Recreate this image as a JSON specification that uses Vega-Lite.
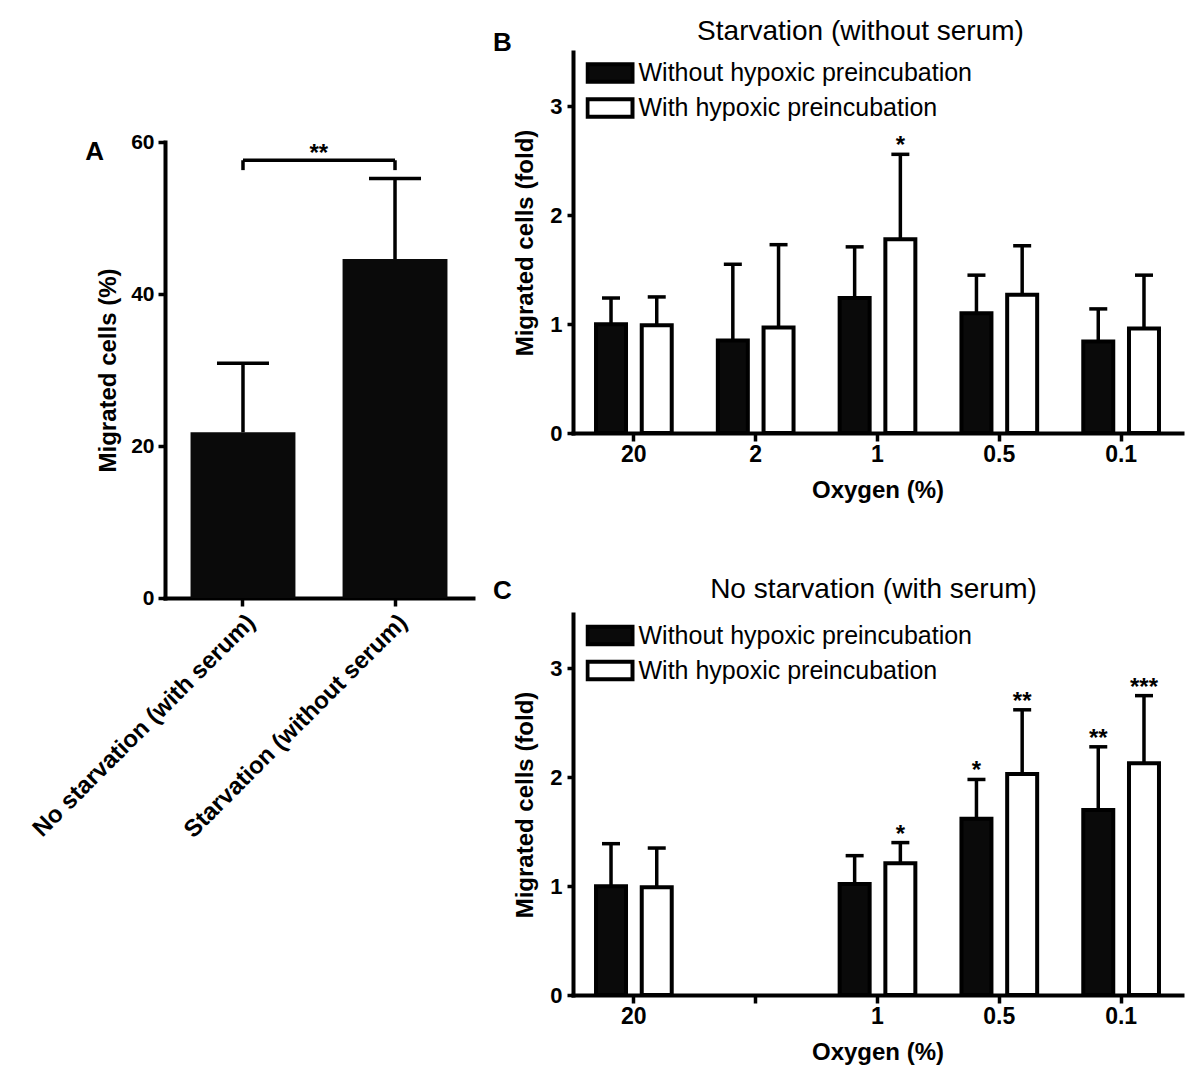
{
  "$schema": "https://vega.github.io/schema/vega-lite/v6.json",
  "background": "white",
  "padding": {"left": 28, "top": 18, "right": 5, "bottom": 5},
  "config": {
    "font": "Liberation Sans",
    "view": {"stroke": null},
    "axis": {
      "domainColor": "black", "domainWidth": 4, "domainCap": "square",
      "tickColor": "black", "tickWidth": 3.5,
      "labelColor": "black", "titleColor": "black",
      "labelFont": "Liberation Sans", "titleFont": "Liberation Sans",
      "labelFontWeight": "bold", "titleFontWeight": "bold",
      "grid": false, "labelLimit": 0
    },
    "title": {"color": "black", "font": "Liberation Sans", "fontWeight": "normal"},
    "legend": {
      "orient": "none",
      "title": null,
      "padding": 0,
      "rowPadding": 0,
      "clipHeight": 35,
      "labelFontSize": 25,
      "labelFont": "Liberation Sans",
      "labelColor": "black",
      "labelOffset": 4,
      "labelLimit": 0,
      "symbolType": "M-1,-0.39H1V0.39H-1Z",
      "symbolSize": 2025,
      "symbolStrokeColor": "black",
      "symbolStrokeWidth": 4
    }
  },
  "datasets": {
    "migA": [
      {"group": "No starvation (with serum)", "mean": 21.8, "upper": 30.9},
      {"group": "Starvation (without serum)", "mean": 44.6, "upper": 55.2}
    ],
    "bracketA": [
      {"from": "No starvation (with serum)", "to": "Starvation (without serum)", "y": 57.6, "yEnd": 56.3, "label": "**"}
    ],
    "starv": [
      {"oxygen": "20", "cond": "Without hypoxic preincubation", "mean": 1.00, "upper": 1.24, "sig": ""},
      {"oxygen": "20", "cond": "With hypoxic preincubation", "mean": 0.99, "upper": 1.25, "sig": ""},
      {"oxygen": "2", "cond": "Without hypoxic preincubation", "mean": 0.85, "upper": 1.55, "sig": ""},
      {"oxygen": "2", "cond": "With hypoxic preincubation", "mean": 0.97, "upper": 1.73, "sig": ""},
      {"oxygen": "1", "cond": "Without hypoxic preincubation", "mean": 1.24, "upper": 1.71, "sig": ""},
      {"oxygen": "1", "cond": "With hypoxic preincubation", "mean": 1.78, "upper": 2.56, "sig": "*"},
      {"oxygen": "0.5", "cond": "Without hypoxic preincubation", "mean": 1.10, "upper": 1.45, "sig": ""},
      {"oxygen": "0.5", "cond": "With hypoxic preincubation", "mean": 1.27, "upper": 1.72, "sig": ""},
      {"oxygen": "0.1", "cond": "Without hypoxic preincubation", "mean": 0.84, "upper": 1.14, "sig": ""},
      {"oxygen": "0.1", "cond": "With hypoxic preincubation", "mean": 0.96, "upper": 1.45, "sig": ""}
    ],
    "serum": [
      {"oxygen": "20", "cond": "Without hypoxic preincubation", "mean": 1.00, "upper": 1.39, "sig": ""},
      {"oxygen": "20", "cond": "With hypoxic preincubation", "mean": 0.99, "upper": 1.35, "sig": ""},
      {"oxygen": "1", "cond": "Without hypoxic preincubation", "mean": 1.02, "upper": 1.28, "sig": ""},
      {"oxygen": "1", "cond": "With hypoxic preincubation", "mean": 1.21, "upper": 1.40, "sig": "*"},
      {"oxygen": "0.5", "cond": "Without hypoxic preincubation", "mean": 1.62, "upper": 1.98, "sig": "*"},
      {"oxygen": "0.5", "cond": "With hypoxic preincubation", "mean": 2.03, "upper": 2.62, "sig": "**"},
      {"oxygen": "0.1", "cond": "Without hypoxic preincubation", "mean": 1.70, "upper": 2.28, "sig": "**"},
      {"oxygen": "0.1", "cond": "With hypoxic preincubation", "mean": 2.13, "upper": 2.75, "sig": "***"}
    ]
  },
  "spacing": 19,
  "hconcat": [
    {
      "width": 308,
      "height": 546,
      "title": {"text": "A", "anchor": "start", "frame": "group", "align": "right", "dx": -61, "offset": -113, "fontSize": 26, "fontWeight": "bold"},
      "layer": [
        {
          "data": {"name": "migA"},
          "mark": {"type": "bar", "color": "#0a0a0a"},
          "encoding": {
            "x": {"field": "group", "type": "nominal", "title": null,
              "scale": {"domain": ["No starvation (with serum)", "Starvation (without serum)"], "paddingInner": 0.31, "paddingOuter": 0.168},
              "axis": {"labelAngle": -45, "labelFontSize": 24, "tickSize": 8, "labelPadding": 4}},
            "y": {"field": "mean", "type": "quantitative", "title": "Migrated cells (%)",
              "scale": {"domain": [0, 60], "range": [546, 90], "nice": false},
              "axis": {"values": [0, 20, 40, 60], "labelFontSize": 21, "titleFontSize": 24, "tickSize": 7, "labelPadding": 4, "titlePadding": 10}}
          }
        },
        {
          "data": {"name": "migA"},
          "mark": {"type": "rule", "color": "black", "strokeWidth": 3.5},
          "encoding": {
            "x": {"field": "group", "type": "nominal", "title": null},
            "y": {"field": "mean", "type": "quantitative", "title": "Migrated cells (%)"},
            "y2": {"field": "upper"}
          }
        },
        {
          "data": {"name": "migA"},
          "mark": {"type": "tick", "color": "black", "opacity": 1, "size": 52, "thickness": 3.5},
          "encoding": {
            "x": {"field": "group", "type": "nominal", "title": null},
            "y": {"field": "upper", "type": "quantitative", "title": "Migrated cells (%)"}
          }
        },
        {
          "data": {"name": "bracketA"},
          "mark": {"type": "rule", "color": "black", "strokeWidth": 3.5},
          "encoding": {
            "x": {"field": "from", "type": "nominal", "title": null},
            "x2": {"field": "to"},
            "y": {"field": "y", "type": "quantitative", "title": "Migrated cells (%)"}
          }
        },
        {
          "data": {"name": "bracketA"},
          "transform": [{"fold": ["from", "to"], "as": ["side", "cat"]}],
          "mark": {"type": "rule", "color": "black", "strokeWidth": 3.5},
          "encoding": {
            "x": {"field": "cat", "type": "nominal", "title": null},
            "y": {"field": "y", "type": "quantitative", "title": "Migrated cells (%)"},
            "y2": {"field": "yEnd"}
          }
        },
        {
          "data": {"name": "bracketA"},
          "mark": {"type": "text", "fontSize": 24, "fontWeight": "bold", "baseline": "alphabetic", "color": "black", "dy": 1},
          "encoding": {
            "x": {"field": "from", "type": "nominal", "title": null, "bandPosition": 1.223},
            "y": {"field": "y", "type": "quantitative", "title": "Migrated cells (%)"},
            "text": {"field": "label"}
          }
        }
      ]
    },
    {
      "spacing": 74,
      "resolve": {"scale": {"fill": "independent"}, "legend": {"fill": "independent"}},
      "vconcat": [
        {
          "title": {"text": "B", "anchor": "start", "frame": "bounds", "align": "right", "dx": -2, "offset": -38, "fontSize": 26, "fontWeight": "bold"},
          "resolve": {"scale": {"fill": "independent"}, "legend": {"fill": "independent"}},
          "vconcat": [
            {
              "width": 609,
              "height": 381,
              "title": {"text": "Starvation (without serum)", "anchor": "middle", "frame": "group", "dx": -17, "offset": 6, "fontSize": 28},
              "data": {"name": "starv"},
              "encoding": {
                "x": {"field": "oxygen", "type": "nominal", "title": "Oxygen (%)",
                  "scale": {"domain": ["20", "2", "1", "0.5", "0.1"], "paddingInner": 0.3785, "paddingOuter": 0.189},
                  "axis": {"labelAngle": 0, "labelFontSize": 23, "titleFontSize": 24, "tickSize": 8, "labelPadding": 2, "titlePadding": 12}},
                "xOffset": {"field": "cond", "type": "nominal",
                  "scale": {"domain": ["Without hypoxic preincubation", "With hypoxic preincubation"], "paddingInner": 0.344, "paddingOuter": 0}}
              },
              "layer": [
                {
                  "mark": {"type": "bar", "stroke": "black", "strokeWidth": 4},
                  "encoding": {
                    "y": {"field": "mean", "type": "quantitative", "title": "Migrated cells (fold)",
                      "scale": {"domain": [0, 3.5], "nice": false},
                      "axis": {"values": [0, 1, 2, 3], "format": "d", "labelFontSize": 22, "titleFontSize": 24, "tickSize": 6, "labelPadding": 5, "titlePadding": 12}},
                    "fill": {"field": "cond", "type": "nominal",
                      "scale": {"domain": ["Without hypoxic preincubation", "With hypoxic preincubation"], "range": ["#0a0a0a", "white"]},
                      "legend": {"legendX": 12.5, "legendY": 3.5}}
                  }
                },
                {
                  "mark": {"type": "rule", "color": "black", "strokeWidth": 3.5},
                  "encoding": {
                    "y": {"field": "mean", "type": "quantitative", "title": "Migrated cells (fold)"},
                    "y2": {"field": "upper"}
                  }
                },
                {
                  "mark": {"type": "tick", "color": "black", "opacity": 1, "size": 18, "thickness": 3.5},
                  "encoding": {
                    "y": {"field": "upper", "type": "quantitative", "title": "Migrated cells (fold)"}
                  }
                },
                {
                  "mark": {"type": "text", "fontSize": 24, "fontWeight": "bold", "baseline": "alphabetic", "color": "black", "dy": -1},
                  "encoding": {
                    "y": {"field": "upper", "type": "quantitative", "title": "Migrated cells (fold)"},
                    "text": {"field": "sig"}
                  }
                }
              ]
            }
          ]
        },
        {
          "title": {"text": "C", "anchor": "start", "frame": "bounds", "align": "right", "dx": -2, "offset": -28, "fontSize": 26, "fontWeight": "bold"},
          "resolve": {"scale": {"fill": "independent"}, "legend": {"fill": "independent"}},
          "vconcat": [
            {
              "width": 609,
              "height": 381,
              "title": {"text": "No starvation (with serum)", "anchor": "middle", "frame": "group", "dx": -4, "offset": 10, "fontSize": 28},
              "data": {"name": "serum"},
              "encoding": {
                "x": {"field": "oxygen", "type": "nominal", "title": "Oxygen (%)",
                  "scale": {"domain": ["20", "2", "1", "0.5", "0.1"], "paddingInner": 0.3785, "paddingOuter": 0.189},
                  "axis": {"labelAngle": 0, "labelFontSize": 23, "titleFontSize": 24, "tickSize": 8, "labelPadding": 2, "titlePadding": 12,
                    "labelExpr": "datum.value == '2' ? '' : datum.value"}},
                "xOffset": {"field": "cond", "type": "nominal",
                  "scale": {"domain": ["Without hypoxic preincubation", "With hypoxic preincubation"], "paddingInner": 0.344, "paddingOuter": 0}}
              },
              "layer": [
                {
                  "mark": {"type": "bar", "stroke": "black", "strokeWidth": 4},
                  "encoding": {
                    "y": {"field": "mean", "type": "quantitative", "title": "Migrated cells (fold)",
                      "scale": {"domain": [0, 3.5], "nice": false},
                      "axis": {"values": [0, 1, 2, 3], "format": "d", "labelFontSize": 22, "titleFontSize": 24, "tickSize": 6, "labelPadding": 5, "titlePadding": 12}},
                    "fill": {"field": "cond", "type": "nominal",
                      "scale": {"domain": ["Without hypoxic preincubation", "With hypoxic preincubation"], "range": ["#0a0a0a", "white"]},
                      "legend": {"legendX": 12.5, "legendY": 4}}
                  }
                },
                {
                  "mark": {"type": "rule", "color": "black", "strokeWidth": 3.5},
                  "encoding": {
                    "y": {"field": "mean", "type": "quantitative", "title": "Migrated cells (fold)"},
                    "y2": {"field": "upper"}
                  }
                },
                {
                  "mark": {"type": "tick", "color": "black", "opacity": 1, "size": 18, "thickness": 3.5},
                  "encoding": {
                    "y": {"field": "upper", "type": "quantitative", "title": "Migrated cells (fold)"}
                  }
                },
                {
                  "mark": {"type": "text", "fontSize": 24, "fontWeight": "bold", "baseline": "alphabetic", "color": "black", "dy": -1},
                  "encoding": {
                    "y": {"field": "upper", "type": "quantitative", "title": "Migrated cells (fold)"},
                    "text": {"field": "sig"}
                  }
                }
              ]
            }
          ]
        }
      ]
    }
  ]
}
